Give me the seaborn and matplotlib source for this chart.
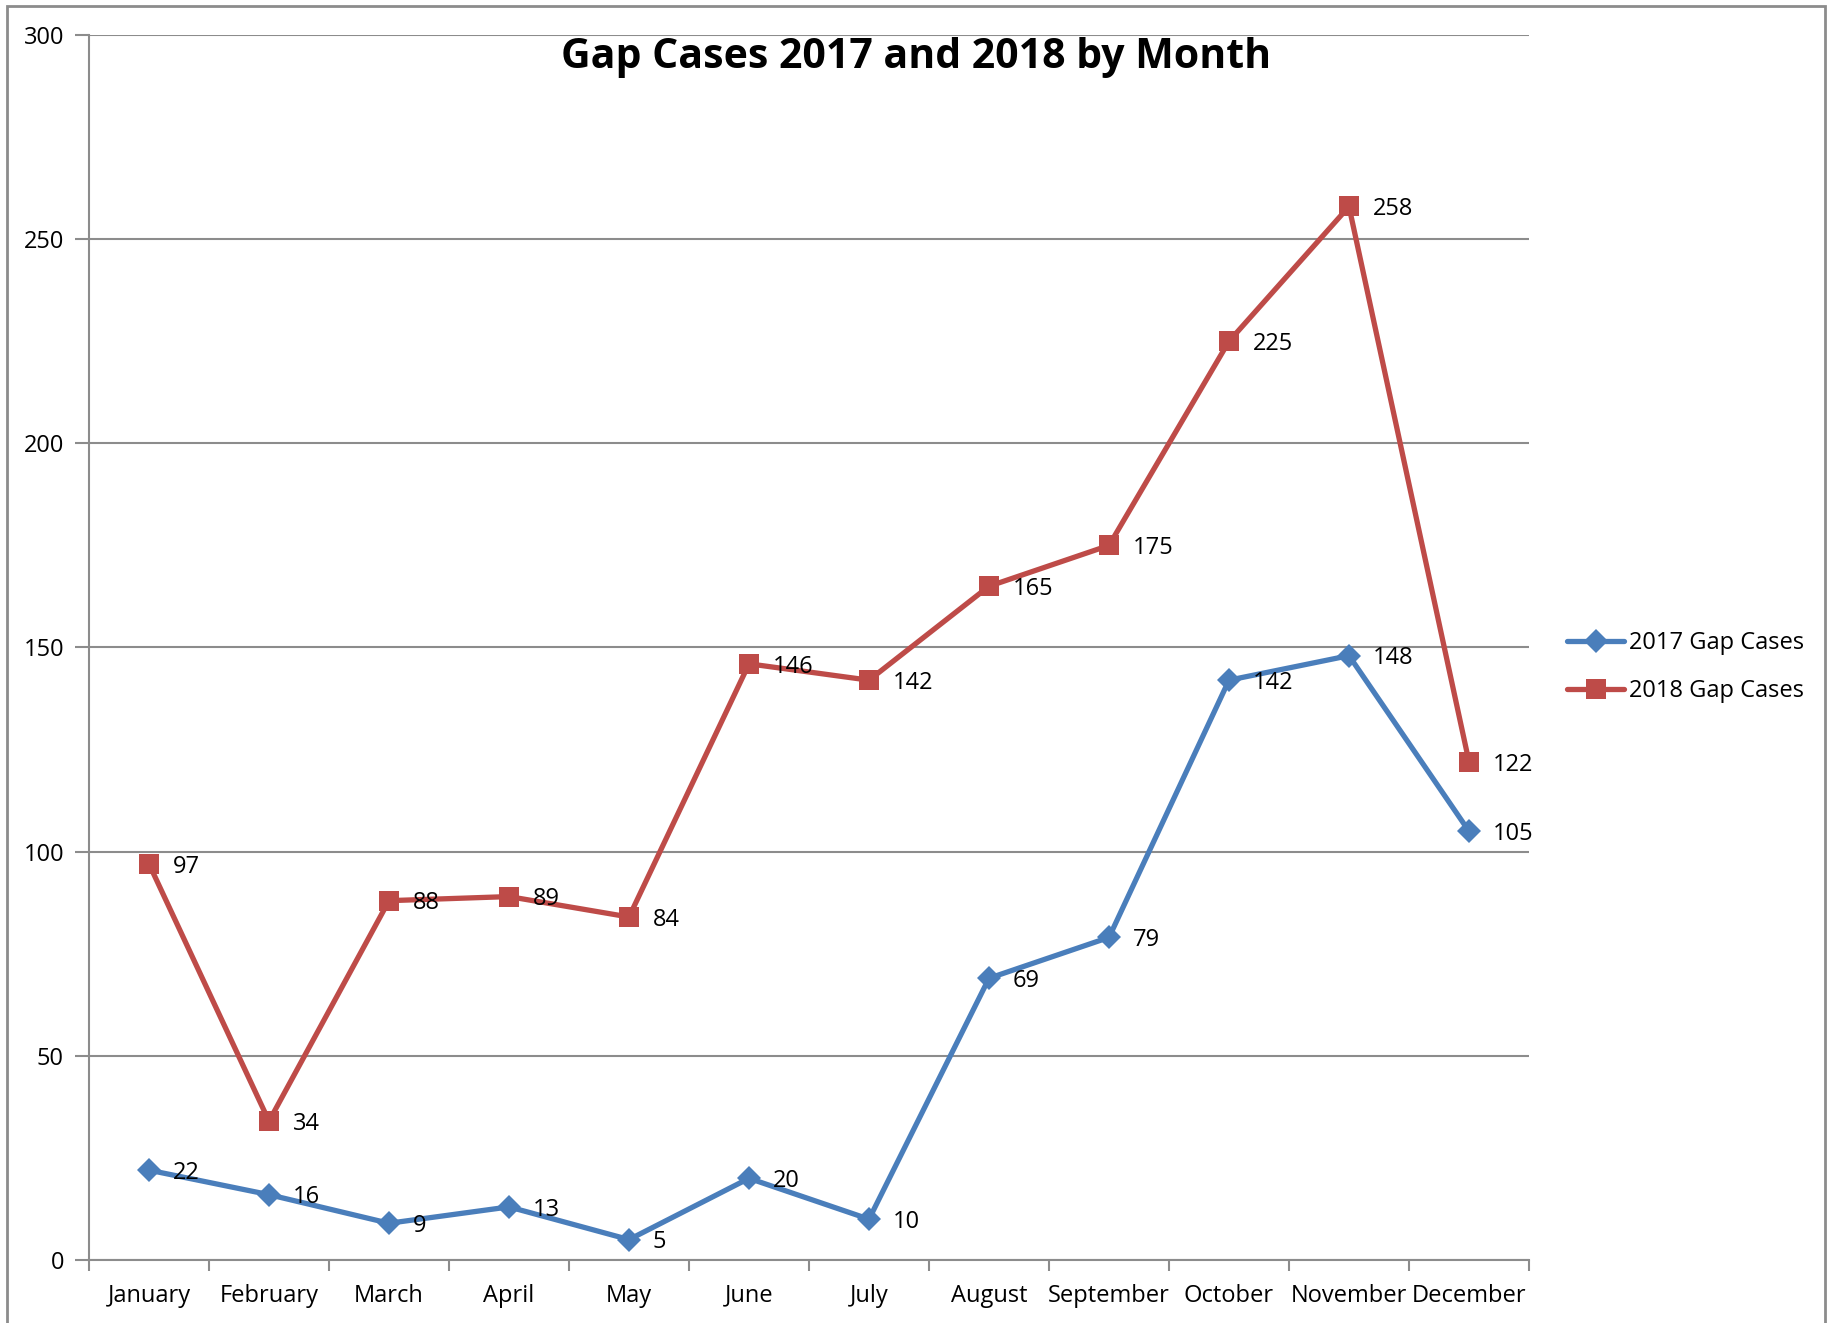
import numpy as np
import pandas as pd
import matplotlib
matplotlib.use("Agg")
import matplotlib.pyplot as plt
import seaborn as sns
from matplotlib.patches import Rectangle

months = ["January", "February", "March", "April", "May", "June", "July",
          "August", "September", "October", "November", "December"]
cases_2017 = [22, 16, 9, 13, 5, 20, 10, 69, 79, 142, 148, 105]
cases_2018 = [97, 34, 88, 89, 84, 146, 142, 165, 175, 225, 258, 122]
series_names = ["2017 Gap Cases", "2018 Gap Cases"]

sns.set_theme(style="white")
plt.rcParams["font.family"] = ["Open Sans", "DejaVu Sans"]
plt.rcParams["text.color"] = "black"
plt.rcParams["xtick.color"] = "black"
plt.rcParams["ytick.color"] = "black"

blue = "#4A7EBB"
red = "#BE4B48"
grid_gray = "#8C8C8C"

fig = plt.figure(figsize=(18.34, 13.23), dpi=100)
ax = fig.add_axes([89 / 1834, 1 - 1260 / 1323, 1440 / 1834, 1225 / 1323])

x = np.arange(len(months))
df = pd.DataFrame({
    "x": np.concatenate([x, x]),
    "cases": cases_2017 + cases_2018,
    "series": [series_names[0]] * len(x) + [series_names[1]] * len(x),
})

# two series, diamond vs square markers
for name, color, marker, msize in [(series_names[0], blue, "D", 12.5),
                                   (series_names[1], red, "s", 14.5)]:
    sub = df[df["series"] == name]
    sns.lineplot(data=sub, x="x", y="cases", ax=ax, color=color, linewidth=3.8,
                 marker=marker, markersize=msize, markeredgewidth=0,
                 label=name, zorder=3)
    for xi, yi in zip(sub["x"], sub["cases"]):
        ax.annotate(str(yi), (xi, yi), xytext=(17, -2), textcoords="offset points",
                    ha="left", va="center", fontsize=17, color="black", zorder=4)

ax.set_xlim(-0.5, len(months) - 0.5)
ax.set_ylim(0, 300)
ax.set_yticks(np.arange(0, 301, 50))
ax.yaxis.grid(True, color=grid_gray, linewidth=1.5)
ax.set_axisbelow(True)

# month labels centred on categories, tick marks on the boundaries
ax.set_xticks(x)
ax.set_xticklabels(months)
ax.set_xticks(np.arange(-0.5, len(months), 1.0), minor=True)
ax.tick_params(axis="x", which="major", length=0, pad=17, labelsize=17,
               labelcolor="black")
ax.tick_params(axis="x", which="minor", length=8, width=1.5, color=grid_gray,
               direction="out", bottom=True)
ax.tick_params(axis="y", length=10, width=1.5, color=grid_gray, direction="out",
               left=True, pad=8, labelsize=17, labelcolor="black")
ax.set_xlabel("")
ax.set_ylabel("")

for side in ["top", "right"]:
    ax.spines[side].set_visible(False)
for side in ["left", "bottom"]:
    ax.spines[side].set_color(grid_gray)
    ax.spines[side].set_linewidth(1.5)

fig.text(916 / 1834, 1 - 58 / 1323, "Gap Cases 2017 and 2018 by Month",
         ha="center", va="center", fontsize=29.5, fontweight="bold", color="black")

leg = ax.legend(loc="center left", bbox_to_anchor=(1546 / 1834, 1 - 667 / 1323),
                bbox_transform=fig.transFigure, frameon=False, fontsize=17,
                handlelength=2.4, handletextpad=0.2, labelspacing=1.0)
for t in leg.get_texts():
    t.set_color("black")

# chart-area border
fig.patches.append(Rectangle((7 / 1834, -0.05), 1818 / 1834, 1.05 - 6 / 1323,
                             transform=fig.transFigure, fill=False,
                             edgecolor=grid_gray, linewidth=2))

fig.savefig("out.png", dpi=100)
